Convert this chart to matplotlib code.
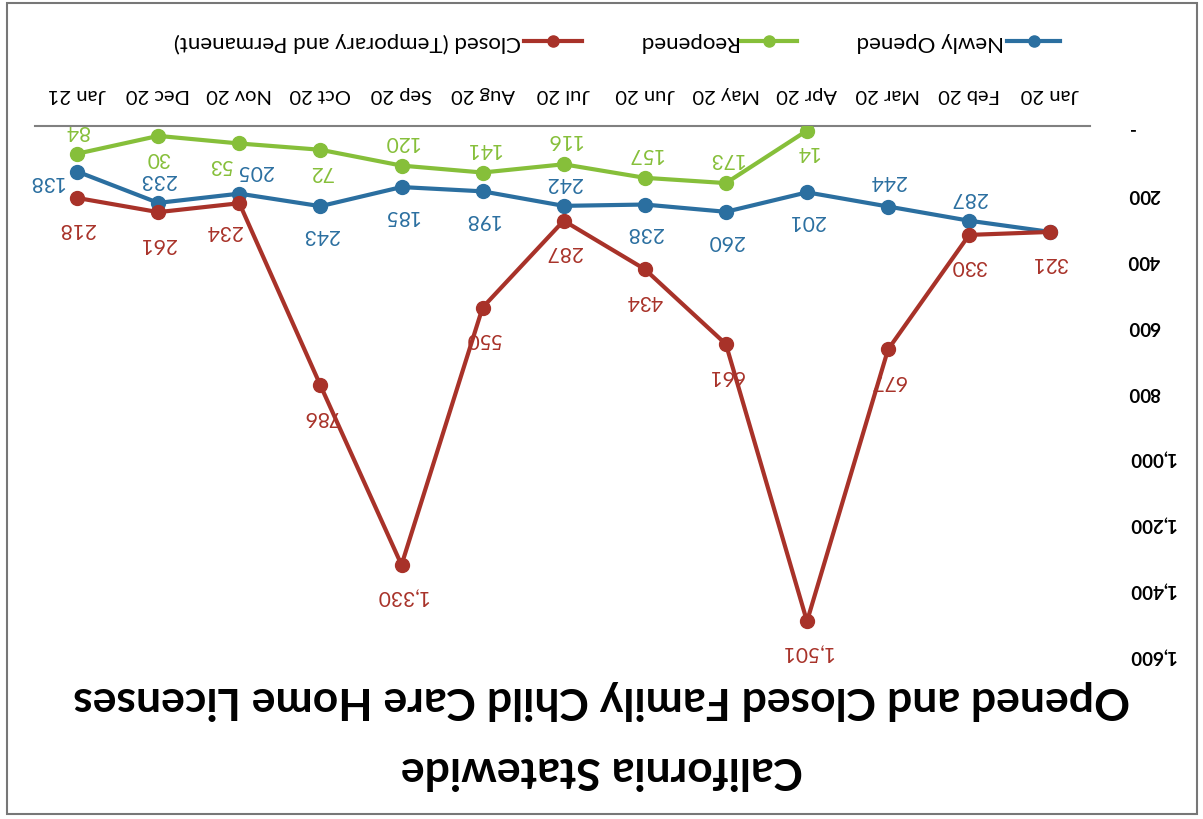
import numpy as np
import matplotlib
matplotlib.use('Agg')
import matplotlib.pyplot as plt
from matplotlib.lines import Line2D
from matplotlib.patches import Rectangle
from matplotlib.ticker import FuncFormatter

plt.rcParams['font.family'] = ['Lato', 'DejaVu Sans']

# data
months = ['Jan 20', 'Feb 20', 'Mar 20', 'Apr 20', 'May 20', 'Jun 20', 'Jul 20',
          'Aug 20', 'Sep 20', 'Oct 20', 'Nov 20', 'Dec 20', 'Jan 21']
newly_opened = [321, 287, 244, 201, 260, 238, 242, 198, 185, 243, 205, 233, 138]
reopened = [np.nan, np.nan, np.nan, 14, 173, 157, 116, 141, 120, 72, 53, 30, 84]
closed = [321, 330, 677, 1501, 661, 434, 287, 550, 1330, 786, 234, 261, 218]
y_ticks = [0, 200, 400, 600, 800, 1000, 1200, 1400, 1600]

# label placement (offset points, display space); None = hidden under another label
UP, DOWN = 17, -20
blue_off = [None, (0, UP), (0, UP + 2), (0, DOWN), (0, DOWN), (0, DOWN), (0, UP),
            (0, DOWN), (0, DOWN), (0, DOWN), (11, UP), (0, UP), (-22, -7)]
green_off = [None, None, None, (0, DOWN + 5), (0, UP + 1), (0, UP + 1), (0, UP + 1),
             (0, UP + 1), (0, UP + 1), (0, DOWN + 5), (-14, DOWN + 5), (0, DOWN + 5), (0, UP)]
red_off = [(0, -22)] * 13
red_off[10] = (-11, -19)

BLUE = '#2b6fa0'
GREEN = '#86bf3a'
RED = '#a83229'

W, H = 1203, 820
fig = plt.figure(figsize=(W / 100, H / 100), dpi=100)
ax = fig.add_axes([35 / W, 1 - 655 / H, (1090 - 35) / W, (655 - 127) / H])

x = np.arange(len(months))
series = [
    (newly_opened, BLUE, blue_off),
    (reopened, GREEN, green_off),
    (closed, RED, red_off),
]
for vals, col, offs in series:
    ax.plot(x, vals, color=col, lw=3, marker='o', ms=10, zorder=3)
for vals, col, offs in series:
    for i, v in enumerate(vals):
        if np.isnan(v) or offs[i] is None:
            continue
        ax.annotate(f'{v:,.0f}', (i, v), xytext=offs[i], textcoords='offset points',
                    ha='center', va='center', rotation=180, color=col, fontsize=15)

ax.set_xlim(12.52, -0.49)
ax.set_ylim(1600, 0)
ax.set_xticks(x)
ax.set_xticklabels(months, rotation=180, fontsize=14.5)
ax.xaxis.set_ticks_position('top')
ax.set_yticks(y_ticks)
ax.yaxis.set_major_formatter(FuncFormatter(lambda v, p: '-' if v == 0 else f'{v:,.0f}'))
ax.yaxis.set_ticks_position('right')
for lab in ax.get_yticklabels():
    lab.set_rotation(180)
    lab.set_fontweight('bold')
ax.tick_params(axis='x', length=0, pad=17)
ax.tick_params(axis='y', length=0, pad=27, labelsize=13.5)
for s in ['left', 'right', 'bottom']:
    ax.spines[s].set_visible(False)
ax.spines['top'].set_color('#808080')
ax.spines['top'].set_linewidth(1.5)
ax.patch.set_alpha(0)


def fx(px):
    return px / W


def fy(py):
    return 1 - py / H


# legend drawn by hand, upside down
legend = [('Newly Opened', BLUE, 1007, 1060),
          ('Reopened', GREEN, 740, 797),
          ('Closed (Temporary and Permanent)', RED, 524, 582)]
for name, col, x0, x1 in legend:
    fig.add_artist(Line2D([fx(x0), fx(x1)], [fy(42), fy(42)], color=col, lw=3,
                          transform=fig.transFigure))
    fig.add_artist(Line2D([fx((x0 + x1) / 2)], [fy(42)], color=col, marker='o', ms=8,
                          transform=fig.transFigure))
    fig.text(fx(x0 - 3), fy(42), name, rotation=180, ha='right', va='center', fontsize=16)

fig.text(0.5, fy(700), 'Opened and Closed Family Child Care Home Licenses', rotation=180,
         ha='center', va='center', fontsize=32, fontweight='bold')
fig.text(0.5, fy(770), 'California Statewide', rotation=180,
         ha='center', va='center', fontsize=32, fontweight='bold')

fig.add_artist(Rectangle((fx(7), fy(815)), fx(1197) - fx(7), fy(4) - fy(815), fill=False,
                         edgecolor='#777777', lw=1.5, transform=fig.transFigure))

fig.savefig('out.png', dpi=100)
